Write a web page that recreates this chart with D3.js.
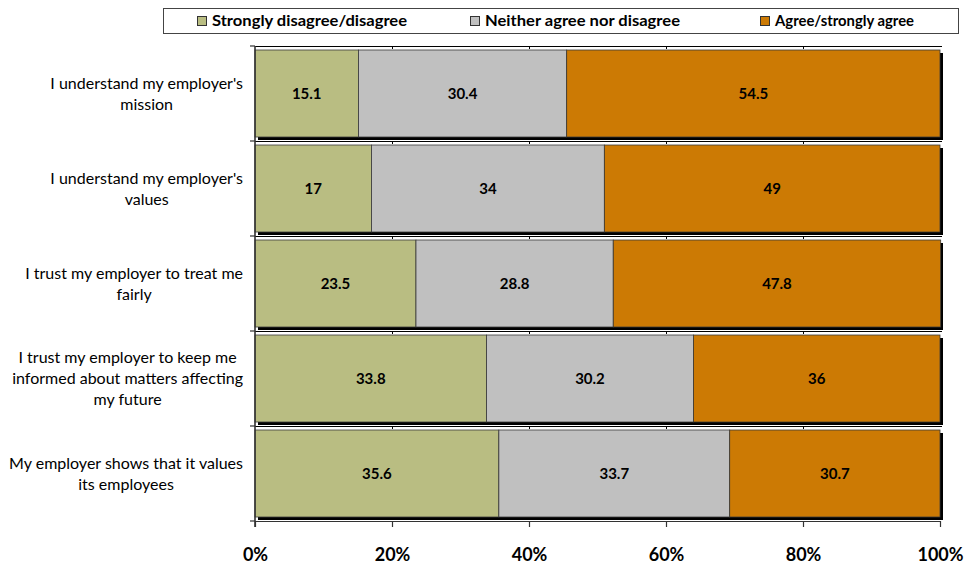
<!DOCTYPE html>
<html>
<head>
<meta charset="utf-8">
<script src="https://cdn.jsdelivr.net/npm/d3@7"></script>
<style>
  html, body { margin: 0; padding: 0; background: #fff; }
  svg { display: block; }
  text { font-family: Lato, "Open Sans", sans-serif; }
</style>
</head>
<body>
<svg id="chart" width="969" height="564"></svg>
<script>
// Survey statements (each entry is one label, split into its lines)
const categories = [
  ["I understand my employer's", "mission"],
  ["I understand my employer's", "values"],
  ["I trust my employer to treat me", "fairly"],
  ["I trust my employer to keep me", "informed about matters affecting", "my future"],
  ["My employer shows that it values", "its employees"]
];

const seriesNames = ["Strongly disagree/disagree", "Neither agree nor disagree", "Agree/strongly agree"];
const disagree = [15.1, 17, 23.5, 33.8, 35.6];
const neutral  = [30.4, 34, 28.8, 30.2, 33.7];
const agree    = [54.5, 49, 47.8, 36, 30.7];

const xTicks = [0, 20, 40, 60, 80, 100];
const xTickLabels = ["0%", "20%", "40%", "60%", "80%", "100%"];

const colors = ["#B9BD82", "#C0C0C0", "#CC7A04"];

// Rows for the stack layout
const keys = ["disagree", "neutral", "agree"];
const rows = categories.map((c, i) => ({
  id: i, disagree: disagree[i], neutral: neutral[i], agree: agree[i]
}));
const stacked = d3.stack().keys(keys)(rows);

const svg = d3.select("#chart");
const plotLeft = 255, plotRight = 940, plotTop = 46, plotBottom = 521;

const x = d3.scaleLinear().domain([0, 100]).range([plotLeft, plotRight]);
const y = d3.scaleBand()
  .domain(rows.map(d => d.id))
  .range([plotTop, plotBottom])
  .paddingInner(8 / 95)
  .paddingOuter(4 / 95);

const step = y.step();
const bandTop = i => y(i) - (step - y.bandwidth()) / 2;

// thin separator line at the top of each row band
const g = svg.append("g");
rows.forEach((r, i) => {
  g.append("line")
    .attr("x1", plotLeft).attr("x2", plotRight + 2)
    .attr("y1", bandTop(i) + 0.5).attr("y2", bandTop(i) + 0.5)
    .attr("stroke", "#000").attr("stroke-width", 1);
  xTicks.slice(1, -1).forEach(t => {
    g.append("line")
      .attr("x1", x(t) + 0.5).attr("x2", x(t) + 0.5)
      .attr("y1", bandTop(i)).attr("y2", bandTop(i) + 3)
      .attr("stroke", "#000").attr("stroke-width", 1);
  });
});

// drop shadow behind each full bar
g.selectAll("rect.shadow")
  .data(rows)
  .join("rect")
  .attr("class", "shadow")
  .attr("x", x(0) + 3)
  .attr("y", d => y(d.id) + 3)
  .attr("width", x(100) - x(0))
  .attr("height", y.bandwidth())
  .attr("fill", "#000");

// stacked segments
const layers = g.selectAll("g.layer")
  .data(stacked)
  .join("g")
  .attr("class", "layer")
  .attr("fill", (d, i) => colors[i]);

layers.selectAll("rect")
  .data(d => d)
  .join("rect")
  .attr("x", d => x(d[0]))
  .attr("y", d => y(d.data.id))
  .attr("width", d => x(d[1]) - x(d[0]))
  .attr("height", y.bandwidth())
  .attr("stroke", "#3a3a3a")
  .attr("stroke-width", 0.8);

// value labels
layers.selectAll("text")
  .data((layer) => layer.map(d => ({ d, key: layer.key })))
  .join("text")
  .attr("x", o => (x(o.d[0]) + x(o.d[1])) / 2)
  .attr("y", o => y(o.d.data.id) + y.bandwidth() / 2)
  .attr("dy", "0.36em")
  .attr("text-anchor", "middle")
  .attr("font-weight", "bold")
  .attr("font-size", 15)
  .attr("fill", "#000")
  .text(o => o.d.data[o.key]);

// y axis line and ticks at band boundaries
svg.append("line")
  .attr("x1", plotLeft).attr("x2", plotLeft)
  .attr("y1", plotTop).attr("y2", plotBottom + 6)
  .attr("stroke", "#333").attr("stroke-width", 1.6);
d3.range(rows.length + 1).forEach(i => {
  const yy = plotTop + i * step;
  svg.append("line")
    .attr("x1", plotLeft - 5).attr("x2", plotLeft)
    .attr("y1", yy).attr("y2", yy)
    .attr("stroke", "#333").attr("stroke-width", 1.2);
});

// x axis
const xAxis = svg.append("g")
  .attr("transform", `translate(0,${plotBottom})`)
  .call(d3.axisBottom(x)
    .tickValues(xTicks)
    .tickFormat((d, i) => xTickLabels[i])
    .tickSize(6)
    .tickSizeOuter(0));
xAxis.select(".domain").attr("stroke", "#333").attr("stroke-width", 1.2);
xAxis.selectAll(".tick line").attr("stroke", "#333").attr("stroke-width", 1.2);
xAxis.selectAll(".tick text")
  .attr("y", 27)
  .attr("dy", "0.71em")
  .attr("font-family", "Lato, 'Open Sans', sans-serif")
  .attr("font-size", 18)
  .attr("font-weight", "bold")
  .attr("fill", "#000");

// category labels: each block centred on its own width, right-aligned to the axis
const labelRight = 243, lineH = 21;
rows.forEach((r, i) => {
  const lines = categories[i];
  const t = svg.append("g");
  const texts = lines.map((ln, k) => t.append("text")
    .attr("font-size", 16)
    .attr("fill", "#000")
    .attr("text-anchor", "middle")
    .attr("dy", "0.35em")
    .attr("y", y(i) + y.bandwidth() / 2 + (k - (lines.length - 1) / 2) * lineH)
    .text(ln));
  const maxW = d3.max(texts, n => n.node().getComputedTextLength());
  texts.forEach(n => n.attr("x", labelRight - maxW / 2));
});

// legend
const legend = svg.append("g");
legend.append("rect")
  .attr("x", 163.5).attr("y", 8.5)
  .attr("width", 795).attr("height", 25)
  .attr("fill", "#fff")
  .attr("stroke", "#444").attr("stroke-width", 1);
const legendSwatchX = [197, 470, 760];
const legendWidths = [195, 195, 139];
seriesNames.forEach((name, i) => {
  legend.append("rect")
    .attr("x", legendSwatchX[i] + 0.5).attr("y", 16.5)
    .attr("width", 9).attr("height", 9)
    .attr("fill", colors[i])
    .attr("stroke", "#333").attr("stroke-width", 1);
  legend.append("text")
    .attr("x", legendSwatchX[i] + 15)
    .attr("y", 21)
    .attr("dy", "0.35em")
    .attr("font-size", 15)
    .attr("font-weight", "bold")
    .attr("fill", "#000")
    .attr("textLength", legendWidths[i])
    .attr("lengthAdjust", "spacingAndGlyphs")
    .text(name);
});
</script>
</body>
</html>
